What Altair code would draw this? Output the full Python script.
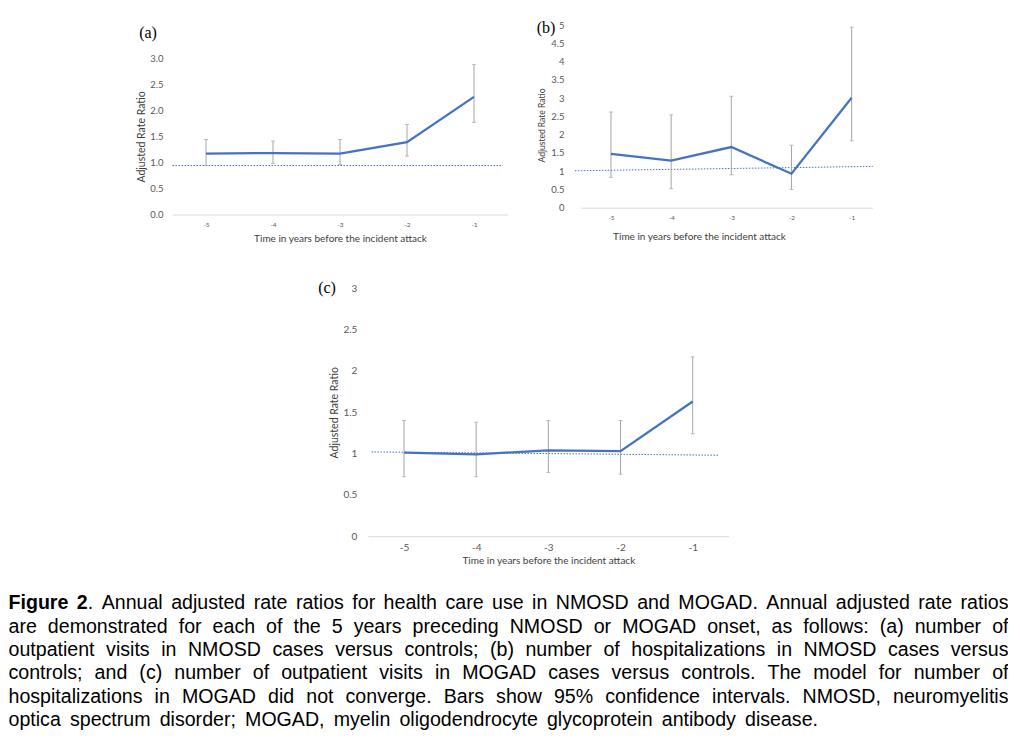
import altair as alt
import pandas as pd

# ---------------- data ----------------
YEARS = [-5, -4, -3, -2, -1]

A_RR = [1.17, 1.18, 1.17, 1.39, 2.26]
A_LO = [0.94, 0.98, 0.96, 1.12, 1.77]
A_HI = [1.44, 1.41, 1.44, 1.73, 2.88]

B_RR = [1.47, 1.29, 1.66, 0.93, 3.01]
B_LO = [0.83, 0.52, 0.90, 0.50, 1.83]
B_HI = [2.62, 2.54, 3.05, 1.71, 4.94]

C_RR = [1.01, 0.99, 1.04, 1.03, 1.63]
C_LO = [0.72, 0.72, 0.77, 0.75, 1.24]
C_HI = [1.40, 1.38, 1.40, 1.40, 2.17]

# dotted reference lines (end points as drawn)
A_REF_X = [-5.5, -0.57]
A_REF_Y = [0.94, 0.94]
B_REF_X = [-5.6, -0.65]
B_REF_Y = [1.01, 1.13]
C_REF_X = [-5.45, -0.64]
C_REF_Y = [1.02, 0.98]

A_TICKS = [0, 0.5, 1.0, 1.5, 2.0, 2.5, 3.0]
B_TICKS = [0, 0.5, 1, 1.5, 2, 2.5, 3, 3.5, 4, 4.5, 5]
C_TICKS = [0, 0.5, 1, 1.5, 2, 2.5, 3]

PANEL_LABELS = ["(a)", "(b)", "(c)"]
Y_TITLE = "Adjusted Rate Ratio"
X_TITLE = "Time in years before the incident attack"

BOLD_PREFIX = "Figure 2"
CAPTION_LINES = [
    "Figure 2. Annual adjusted rate ratios for health care use in NMOSD and MOGAD. Annual adjusted rate ratios",
    "are demonstrated for each of the 5 years preceding NMOSD or MOGAD onset, as follows: (a) number of",
    "outpatient visits in NMOSD cases versus controls; (b) number of hospitalizations in NMOSD cases versus",
    "controls; and (c) number of outpatient visits in MOGAD cases versus controls. The model for number of",
    "hospitalizations in MOGAD did not converge. Bars show 95% confidence intervals. NMOSD, neuromyelitis",
    "optica spectrum disorder; MOGAD, myelin oligodendrocyte glycoprotein antibody disease.",
]

# ---------------- layout ----------------
WIDTH = 1000
HEIGHT = 725

LINE_BLUE = "#4472C4"
BAR_GRAY = "#A5A5A5"
LABEL_GRAY = "#595959"
TITLE_GRAY = "#404040"
FONT = "Lato"


def panel(rr, lo, hi, refx, refy, xdom, xrange, ydom, yrange, yvals, yfmt,
          ylab_size, ylab_pad, ytitle_size, ytitle_pad, xlab_size, xlab_pad,
          xtitle_size, xtitle_pad, ytitle_y=None, xtitle_x=None):
    df = pd.DataFrame({"year": YEARS, "rr": rr, "lo": lo, "hi": hi})
    ref = pd.DataFrame({"year": refx, "rr": refy})
    xs = alt.Scale(domain=xdom, range=xrange, nice=False, zero=False)
    ys = alt.Scale(domain=ydom, range=yrange, nice=False, zero=False)
    xkw = dict(
        orient="bottom", offset=yrange[0] - HEIGHT, values=YEARS,
        labelExpr="datum.value + ''", grid=False, ticks=False, tickSize=0,
        domainColor="#D9D9D9", domainWidth=1, labelFlush=False,
        labelFont=FONT, labelFontSize=xlab_size, labelColor=LABEL_GRAY,
        labelPadding=xlab_pad, title=X_TITLE, titleFont=FONT,
        titleFontSize=xtitle_size, titleFontWeight="normal",
        titleColor=TITLE_GRAY, titlePadding=xtitle_pad,
    )
    if xtitle_x is not None:
        xkw["titleX"] = xtitle_x
    xaxis = alt.Axis(**xkw)
    ykw = dict(
        orient="left", offset=-xrange[0], values=yvals, format=yfmt,
        grid=False, ticks=False, tickSize=0, domain=False, labelFlush=False,
        labelFont=FONT, labelFontSize=ylab_size, labelColor=LABEL_GRAY,
        labelPadding=ylab_pad, title=Y_TITLE, titleFont=FONT,
        titleFontSize=ytitle_size, titleFontWeight="normal",
        titleColor=TITLE_GRAY, titlePadding=ytitle_pad,
    )
    if ytitle_y is not None:
        ykw["titleY"] = ytitle_y
    yaxis = alt.Axis(**ykw)

    X = lambda f: alt.X(f, type="quantitative", scale=xs, axis=xaxis)
    Y = lambda f: alt.Y(f, type="quantitative", scale=ys, axis=yaxis)

    refl = alt.Chart(ref).mark_line(
        color=LINE_BLUE, strokeWidth=1, strokeDash=[1.5, 1.5]
    ).encode(x=X("year"), y=Y("rr"))
    bars = alt.Chart(df).mark_rule(color=BAR_GRAY, strokeWidth=1).encode(
        x=X("year"), y=Y("lo"), y2="hi:Q")
    cap_lo = alt.Chart(df).mark_tick(
        orient="horizontal", size=4, thickness=1, color=BAR_GRAY
    ).encode(x=X("year"), y=Y("lo"))
    cap_hi = alt.Chart(df).mark_tick(
        orient="horizontal", size=4, thickness=1, color=BAR_GRAY
    ).encode(x=X("year"), y=Y("hi"))
    line = alt.Chart(df).mark_line(color=LINE_BLUE, strokeWidth=2.25).encode(
        x=X("year"), y=Y("rr"))
    return alt.layer(refl, bars, cap_lo, cap_hi, line)


panel_a = panel(A_RR, A_LO, A_HI, A_REF_X, A_REF_Y,
                [-5.5, -0.5], [164.5, 499.5], [0, 3], [206.5, 50.3],
                A_TICKS, ".1f", 9.5, 9.5, 10.5, 3, 6.5, 7, 10, 5)
panel_b = panel(B_RR, B_LO, B_HI, B_REF_X, B_REF_Y,
                [-5.5, -0.65], [572.9, 864.7], [0, 5], [199.7, 17],
                B_TICKS, "~g", 9.5, 17, 8.5, 4, 6.5, 7, 10, 10,
                ytitle_y=117, xtitle_x=691)
panel_c = panel(C_RR, C_LO, C_HI, C_REF_X, C_REF_Y,
                [-5.5, -0.5], [359.9, 720.8], [0, 3], [528.2, 280.3],
                C_TICKS, "~g", 10, 11, 10.5, 3, 10, 6, 10, 3)

LABEL_POS = [(140, 25), (538, 20), (319, 280)]
labels = [
    alt.Chart(pd.DataFrame({"t": [t]})).mark_text(
        font="Liberation Serif", fontSize=16, align="center",
        baseline="middle", color="black"
    ).encode(x=alt.value(p[0]), y=alt.value(p[1]), text="t:N")
    for t, p in zip(PANEL_LABELS, LABEL_POS)
]

# ---------------- caption: justified text (Helvetica/Arial metrics) ----------------
W = {" ": 278, ".": 278, ",": 278, ";": 278, ":": 278, "(": 333, ")": 333,
     "%": 889, "-": 333}
for c in "0123456789":
    W[c] = 556
W.update(dict(zip("abcdefghijklmnopqrstuvwxyz",
                  [556, 556, 500, 556, 556, 278, 556, 556, 222, 222, 500, 222,
                   833, 556, 556, 556, 556, 333, 500, 278, 556, 500, 722, 500,
                   500, 500])))
W.update(dict(zip("ABCDEFGHIJKLMNOPQRSTUVWXYZ",
                  [667, 667, 722, 722, 667, 611, 778, 722, 278, 500, 667, 556,
                   833, 722, 778, 667, 778, 722, 667, 611, 722, 667, 944, 667,
                   667, 611])))
WB = {"F": 611, "i": 278, "g": 611, "u": 611, "r": 389, "e": 556, " ": 278,
      "2": 556}
FS = 19.6
CAP_LEFT = 0.5
CAP_RIGHT = [1000.5, 1000.5, 1000.5, 1000.5, 1000.5, 810]


def seg_w(text, bold):
    table = WB if bold else W
    return sum(table.get(ch, W.get(ch, 556)) for ch in text) / 1000.0 * FS


rows = []
for i, ln in enumerate(CAPTION_LINES):
    flags = [i == 0 and k < len(BOLD_PREFIX) for k in range(len(ln))]
    words = []
    k = 0
    for word in ln.split(" "):
        segs = []
        for ch in word:
            b = flags[k]
            k += 1
            if segs and segs[-1][1] == b:
                segs[-1][0] += ch
            else:
                segs.append([ch, b])
        k += 1
        words.append(segs)
    widths = [sum(seg_w(t, b) for t, b in w) for w in words]
    gap = (CAP_RIGHT[i] - CAP_LEFT - sum(widths)) / (len(words) - 1)
    x = CAP_LEFT
    for w, wd in zip(words, widths):
        xx = x
        for t, b in w:
            rows.append({"line": i, "x": xx, "text": t, "bold": bool(b)})
            xx += seg_w(t, b)
        x += wd + gap

capdf = pd.DataFrame(rows)
cap_x = alt.X("x:Q", scale=alt.Scale(domain=[0, WIDTH], range=[0, WIDTH],
                                     nice=False, zero=False), axis=None)
cap_y = alt.Y("line:Q", scale=alt.Scale(domain=[0, 5], range=[601.3, 718.05],
                                        nice=False, zero=False), axis=None)
cap_reg = alt.Chart(capdf).transform_filter("!datum.bold").mark_text(
    align="left", baseline="alphabetic", font="Liberation Sans",
    fontSize=FS, color="#000000"
).encode(x=cap_x, y=cap_y, text="text:N")
cap_bold = alt.Chart(capdf).transform_filter("datum.bold").mark_text(
    align="left", baseline="alphabetic", font="Liberation Sans",
    fontSize=FS, fontWeight="bold", color="#000000"
).encode(x=cap_x, y=cap_y, text="text:N")

chart = alt.layer(
    panel_a, panel_b, panel_c, *labels, cap_reg, cap_bold
).resolve_scale(
    x="independent", y="independent"
).properties(
    width=WIDTH, height=HEIGHT, padding=0,
    autosize=alt.AutoSizeParams(type="none"), background="white"
).configure_view(stroke=None)

chart.save("out.html", embed_options={"renderer": "svg", "actions": False})
